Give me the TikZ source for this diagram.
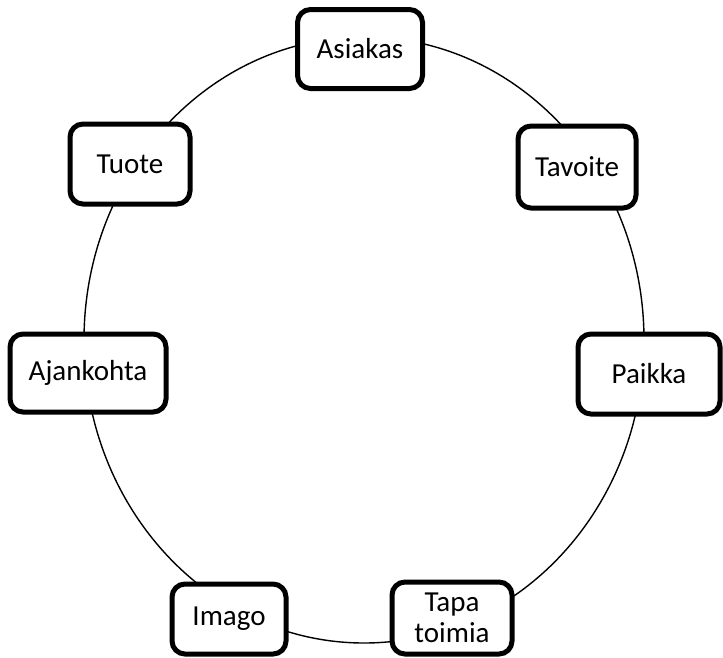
\documentclass[tikz,border=0pt]{standalone}
\usepackage{fontspec}
\setmainfont{Carlito}
\usepackage{tikz}
\tikzset{
  stage/.style={draw=black, fill=white, line width=5pt, rounded corners=13pt, align=center, inner sep=2pt, font=\fontsize{29}{31}\selectfont},
  ring/.style={draw=black, line width=1.4pt},
}

\begin{document}
\begin{tikzpicture}[x=1pt, y=-1pt]
        \useasboundingbox (0,0) rectangle (723,657);
        \draw[ring] (364,340) ellipse [x radius=280, y radius=303];
        \node[stage, minimum width=125pt, minimum height=79pt] (asiakas) at (360,49) {Asiakas};
        \node[stage, minimum width=120pt, minimum height=80pt] (tuote) at (130,164) {Tuote};
        \node[stage, minimum width=118pt, minimum height=82pt] (tavoite) at (577,167) {Tavoite};
        \node[stage, minimum width=156pt, minimum height=78pt] (ajankohta) at (88,373) {Ajankohta};
        \node[stage, minimum width=142pt, minimum height=80pt] (paikka) at (649,374) {Paikka};
        \node[stage, minimum width=114pt, minimum height=70pt] (imago) at (229,619) {Imago};
        \node[stage, minimum width=120pt, minimum height=72pt] (tapa) at (452,618) {Tapa\\toimia};
      \end{tikzpicture}
\end{document}
